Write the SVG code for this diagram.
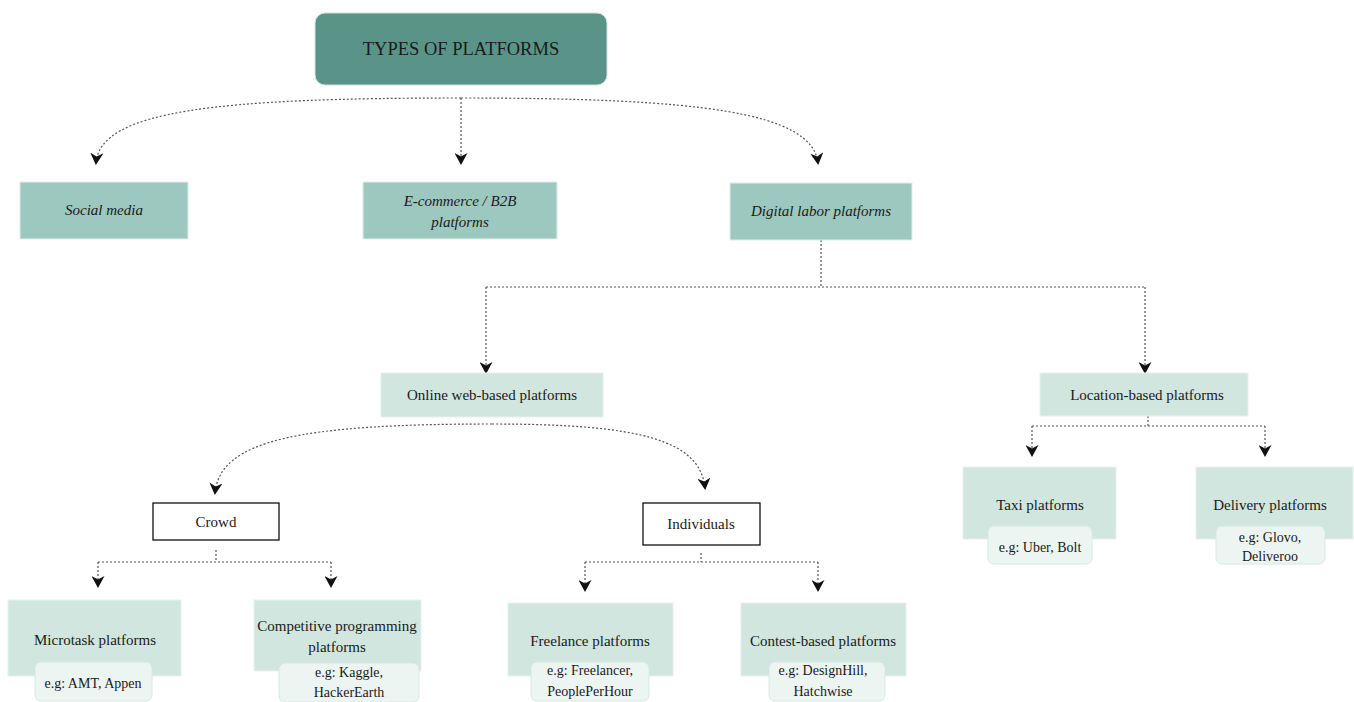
<svg xmlns="http://www.w3.org/2000/svg" width="1354" height="702" viewBox="0 0 1354 702">
<defs>
<marker id="arr" viewBox="0 0 12 13" markerWidth="12" markerHeight="13" refX="10" refY="6.5" orient="auto" markerUnits="userSpaceOnUse">
<path d="M0,0 L12,6.5 L0,13 L3.5,6.5 z" fill="#111"/>
</marker>
<style>
.c{fill:none;stroke:#555;stroke-width:1.2;stroke-dasharray:2 2;marker-end:url(#arr)}
.l{fill:none;stroke:#555;stroke-width:1.2;stroke-dasharray:2 2}
.t{font-size:15px;fill:#1a1a1a;text-anchor:middle}
.s{font-size:14px}
.h{font-size:18.5px}
.i{font-style:italic}
.dark{fill:#5a9488;stroke:#cfe3dc;stroke-width:1}
.mid{fill:#9dc8bf;stroke:#e0efeb;stroke-width:1}
.lt{fill:#d0e6df;stroke:#e6f1ee;stroke-width:1}
.w{fill:#fff;stroke:#111;stroke-width:1.3}
.sub{fill:#edf5f2;stroke:#d6e9e2;stroke-width:1}
</style>
</defs>
<rect width="1354" height="702" fill="#fff"/>
<g id="connectors">
<path class="c" d="M461,98 C220,98 100,110 96,163"/>
<path class="c" d="M461,98 L461,163"/>
<path class="c" d="M461,98 C700,98 812,112 818,163"/>
<path class="l" d="M821,240 L821,287 M486,287 L1145,287"/>
<path class="c" d="M486,287 L486,372"/>
<path class="c" d="M1145,287 L1145,372"/>
<path class="l" d="M1148,416 L1148,426 M1032,426 L1265,426"/>
<path class="c" d="M1032,426 L1032,455"/>
<path class="c" d="M1265,426 L1265,455"/>
<path class="c" d="M492,424 C300,424 220,440 215,493"/>
<path class="c" d="M492,424 C640,424 700,440 705,488"/>
<path class="l" d="M216,550 L216,562 M98,562 L331,562"/>
<path class="c" d="M98,562 L98,586"/>
<path class="c" d="M331,562 L331,586"/>
<path class="l" d="M701,553 L701,562 M585,562 L818,562"/>
<path class="c" d="M585,562 L585,590"/>
<path class="c" d="M818,562 L818,590"/>
</g>
<g font-family="'Liberation Serif', 'Times New Roman', 'DejaVu Serif', serif">
<g id="n-types"><rect class="dark" x="315" y="13" width="292" height="72" rx="10"/><text class="t h" x="461" y="55">TYPES OF PLATFORMS</text></g>
<g id="n-social"><rect class="mid" x="20" y="182" width="168" height="57"/><text class="t i" x="104" y="215">Social media</text></g>
<g id="n-ecom"><rect class="mid" x="363" y="182" width="194" height="57"/><text class="t i" x="460" y="206">E-commerce / B2B</text><text class="t i" x="460" y="227">platforms</text></g>
<g id="n-digital"><rect class="mid" x="730" y="183" width="182" height="57"/><text class="t i" x="821" y="216">Digital labor platforms</text></g>
<g id="n-online"><rect class="lt" x="381" y="373" width="222" height="44"/><text class="t" x="492" y="400">Online web-based platforms</text></g>
<g id="n-location"><rect class="lt" x="1040" y="373" width="208" height="43"/><text class="t" x="1147" y="400">Location-based platforms</text></g>
<g id="n-taxi"><rect class="lt" x="963" y="467" width="153" height="72"/><text class="t" x="1040" y="510">Taxi platforms</text><rect class="sub" x="988" y="526" width="104" height="38" rx="6"/><text class="t s" x="1040" y="552">e.g: Uber, Bolt</text></g>
<g id="n-delivery"><rect class="lt" x="1196" y="467" width="157" height="72"/><text class="t" x="1270" y="510">Delivery platforms</text><rect class="sub" x="1216" y="526" width="109" height="38" rx="6"/><text class="t s" x="1270" y="542">e.g: Glovo,</text><text class="t s" x="1270" y="561">Deliveroo</text></g>
<g id="n-crowd"><rect class="w" x="153" y="503" width="126" height="37"/><text class="t" x="216" y="527">Crowd</text></g>
<g id="n-indiv"><rect class="w" x="643" y="503" width="117" height="42"/><text class="t" x="701" y="529">Individuals</text></g>
<g id="n-micro"><rect class="lt" x="8" y="600" width="173" height="76"/><text class="t" x="95" y="645">Microtask platforms</text><rect class="sub" x="35" y="662" width="117" height="39" rx="6"/><text class="t s" x="93" y="688">e.g: AMT, Appen</text></g>
<g id="n-comp"><rect class="lt" x="254" y="600" width="167" height="71"/><text class="t" x="337" y="631">Competitive programming</text><text class="t" x="337" y="652">platforms</text><rect class="sub" x="279" y="663" width="140" height="39" rx="6"/><text class="t s" x="349" y="677">e.g: Kaggle,</text><text class="t s" x="349" y="697">HackerEarth</text></g>
<g id="n-free"><rect class="lt" x="508" y="603" width="165" height="73"/><text class="t" x="590" y="646">Freelance platforms</text><rect class="sub" x="531" y="662" width="118" height="39" rx="6"/><text class="t s" x="590" y="675">e.g: Freelancer,</text><text class="t s" x="590" y="696">PeoplePerHour</text></g>
<g id="n-contest"><rect class="lt" x="741" y="603" width="165" height="73"/><text class="t" x="823" y="646">Contest-based platforms</text><rect class="sub" x="769" y="662" width="116" height="39" rx="6"/><text class="t s" x="823" y="675">e.g: DesignHill,</text><text class="t s" x="823" y="696">Hatchwise</text></g>
</g>
</svg>
